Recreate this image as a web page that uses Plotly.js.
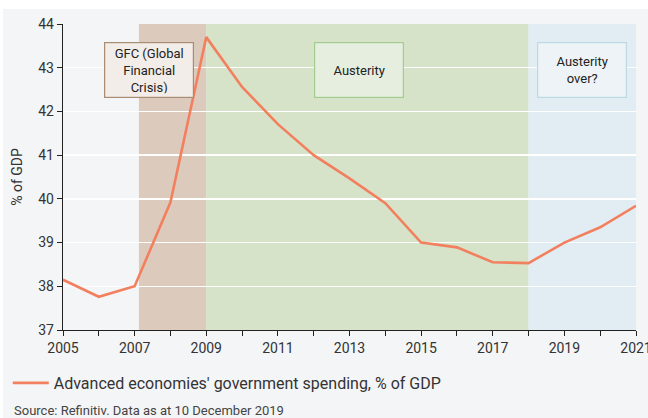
<!DOCTYPE html>
<html>
<head>
<meta charset="utf-8">
<script src="https://cdn.plot.ly/plotly-3.0.1.min.js"></script>
<style>
html,body{margin:0;padding:0;background:#ffffff;}
#chart{position:absolute;left:0px;top:9px;width:648px;height:409px;}
#edgeL{position:absolute;left:0;top:0;width:3px;height:418px;background:#ffffff;z-index:5;}
</style>
</head>
<body>
<div id="chart"></div>
<div id="edgeL"></div>
<script>
const years = [2005,2006,2007,2008,2009,2010,2011,2012,2013,2014,2015,2016,2017,2018,2019,2020,2021];
const spending = [38.15,37.76,38.0,39.92,43.70,42.56,41.71,41.0,40.47,39.90,39.0,38.89,38.55,38.53,39.0,39.35,39.84];
const seriesName = "Advanced economies' government spending, % of GDP";
const periods = [
  {label:"GFC (Global<br>Financial<br>Crisis)", start:2007.12, end:2009, labelX:2007.4},
  {label:"Austerity", start:2009, end:2018, labelX:2013.27},
  {label:"Austerity<br>over?", start:2018, end:2021, labelX:2019.49}
];
const periodFill = ["#dccbbd","#d6e3c9","#e2edf3"];
const boxBg = ["#f2ede8","#e6eedf","#edf3f7"];
const boxBorder = ["#a98d72","#a3cc8f","#bcd9e4"];
const xTickVals = years;
const xTickText = years.map(y => (y % 2 === 1) ? String(y) : "");
const yTicks = [37,38,39,40,41,42,43,44];

const font = "Roboto, 'Noto Sans', sans-serif";

const shapes = periods.map((p,i) => ({
  type:"rect", xref:"x", yref:"paper", x0:p.start, x1:p.end, y0:0, y1:1,
  fillcolor:periodFill[i], line:{width:0}, layer:"below"
}));

const annotations = periods.map((p,i) => ({
  x:p.labelX, y:42.95, xref:"x", yref:"y", text:p.label, showarrow:false,
  font:{family:font, size:13, color:"#222"},
  bgcolor:boxBg[i], bordercolor:boxBorder[i], borderwidth:1.2, borderpad:4,
  width:80, height:46, align:"center", valign:"middle"
}));
annotations.push({
  xref:"paper", yref:"paper", x:-0.089, y:-0.262, xanchor:"left", yanchor:"middle",
  text:"Source: Refinitiv. Data as at 10 December 2019", showarrow:false,
  font:{family:font, size:13, color:"#444"}
});

const trace = {
  x: years, y: spending, type:"scatter", mode:"lines", name: seriesName,
  line:{color:"#f2805f", width:2.6}
};

const layout = {
  width:648, height:409,
  margin:{l:63, r:12, t:15, b:88},
  paper_bgcolor:"#f4f5f7", plot_bgcolor:"#f4f5f7",
  font:{family:font, size:14, color:"#333"},
  showlegend:true,
  legend:{orientation:"h", xref:"container", yref:"container", x:0.012, y:1-(374/409), xanchor:"left", yanchor:"middle",
          itemwidth:36, font:{family:font, size:16, color:"#333"}, bgcolor:"rgba(0,0,0,0)"},
  xaxis:{range:[2004.9999,2021.0001], tickvals:xTickVals, ticktext:xTickText, ticks:"outside", ticklen:5, tickcolor:"#222",
         ticklabeloverflow:"allow",
         showline:true, linecolor:"#222", linewidth:1.2, showgrid:false, zeroline:false,
         tickfont:{family:font, size:14, color:"#333"}},
  yaxis:{range:[37,44.0001], tickvals:yTicks, ticks:"outside", ticklen:5, tickcolor:"#222",
         showline:true, linecolor:"#222", linewidth:1.2, showgrid:true, gridcolor:"#ffffff", gridwidth:1.5, zeroline:false,
         title:{text:"% of GDP", font:{family:font, size:14, color:"#333"}, standoff:12},
         tickfont:{family:font, size:14, color:"#333"}},
  shapes: shapes,
  annotations: annotations
};

Plotly.newPlot("chart", [trace], layout, {displayModeBar:false, staticPlot:true});
</script>
</body>
</html>
